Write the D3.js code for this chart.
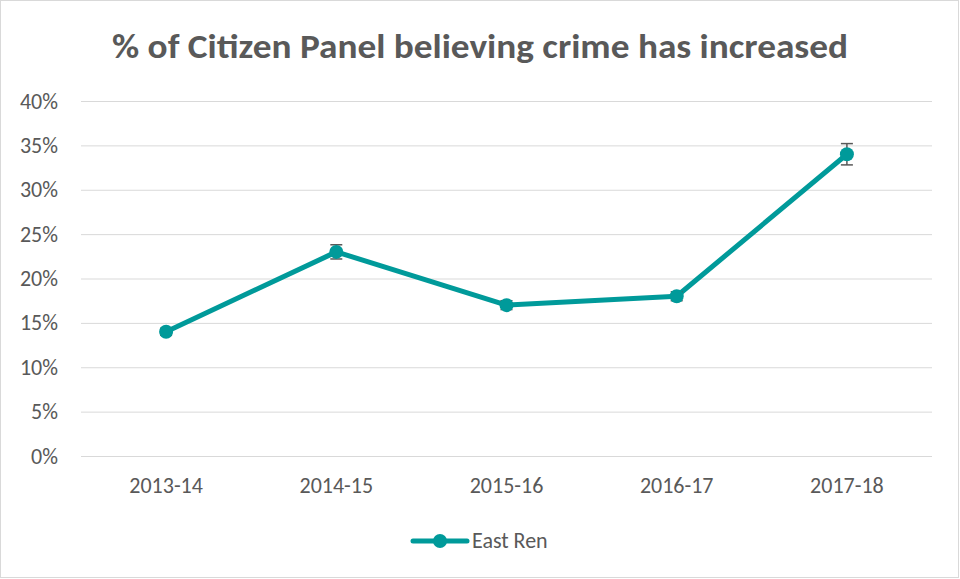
<!DOCTYPE html>
<html>
<head>
<meta charset="utf-8">
<script src="https://cdn.jsdelivr.net/npm/d3@7"></script>
<style>
  body { margin: 0; background: #fff; }
  svg { display: block; font-family: Carlito, Calibri, "Open Sans", sans-serif; }
</style>
</head>
<body>
<div id="chart"></div>
<script>
var years = ["2013-14", "2014-15", "2015-16", "2016-17", "2017-18"];
var values = [14, 23, 17, 18, 34];
var errors = [0.4, 0.8, 0.5, 0.5, 1.2];
var yTicks = [0, 5, 10, 15, 20, 25, 30, 35, 40];
var seriesName = "East Ren";

var width = 960, height = 579;
var margin = {top: 101, right: 28, bottom: 123, left: 81};
var teal = "#009a9a";
var grey = "#595959";
var fontFam = "Carlito, Calibri, 'Open Sans', sans-serif";

var svg = d3.select("#chart").append("svg")
    .attr("width", width)
    .attr("height", height);

svg.append("rect")
    .attr("x", 0.5).attr("y", 0.5)
    .attr("width", width - 2).attr("height", height - 2)
    .style("fill", "#fff")
    .style("stroke", "#d9d9d9");

var x = d3.scaleBand()
    .domain(years)
    .range([margin.left, width - margin.right]);

var y = d3.scaleLinear()
    .domain([0, 40])
    .range([height - margin.bottom, margin.top]);

// title
svg.append("text")
    .attr("x", 480).attr("y", 58)
    .attr("text-anchor", "middle")
    .attr("textLength", 736)
    .attr("lengthAdjust", "spacingAndGlyphs")
    .style("font-size", "35px")
    .style("font-weight", "bold")
    .style("fill", grey)
    .text("% of Citizen Panel believing crime has increased");

// gridlines + y labels
var yAxis = svg.append("g")
    .attr("transform", "translate(" + margin.left + ",0)")
    .call(d3.axisLeft(y).tickValues(yTicks)
        .tickSize(-(width - margin.left - margin.right))
        .tickPadding(23)
        .tickFormat(function(d) { return d + "%"; }));
yAxis.select(".domain").remove();
yAxis.selectAll(".tick line").style("stroke", "#d9d9d9").style("stroke-width", 1);
yAxis.selectAll(".tick text")
    .style("font-size", "22px")
    .style("fill", grey)
    .style("font-family", fontFam);

// x labels
var xAxis = svg.append("g")
    .attr("transform", "translate(0," + (height - margin.bottom) + ")")
    .call(d3.axisBottom(x).tickSize(0).tickPadding(21));
xAxis.select(".domain").remove();
xAxis.selectAll(".tick text")
    .style("font-size", "22px")
    .style("fill", grey)
    .style("font-family", fontFam);

var data = years.map(function(d, i) { return {year: d, value: values[i], err: errors[i]}; });
var cx = function(d) { return x(d.year) + x.bandwidth() / 2; };

var line = d3.line()
    .x(cx)
    .y(function(d) { return y(d.value); });

svg.append("path")
    .datum(data)
    .attr("d", line)
    .style("fill", "none")
    .style("stroke", teal)
    .style("stroke-width", 5)
    .style("stroke-linejoin", "round");

// error bars
var eb = svg.append("g").selectAll("g")
    .data(data).enter().append("g")
    .style("stroke", grey)
    .style("stroke-width", 1.5);
eb.append("line")
    .attr("x1", cx).attr("x2", cx)
    .attr("y1", function(d) { return y(d.value + d.err); })
    .attr("y2", function(d) { return y(d.value - d.err); });
eb.append("line")
    .attr("x1", function(d) { return cx(d) - 6; }).attr("x2", function(d) { return cx(d) + 6; })
    .attr("y1", function(d) { return y(d.value + d.err); })
    .attr("y2", function(d) { return y(d.value + d.err); });
eb.append("line")
    .attr("x1", function(d) { return cx(d) - 6; }).attr("x2", function(d) { return cx(d) + 6; })
    .attr("y1", function(d) { return y(d.value - d.err); })
    .attr("y2", function(d) { return y(d.value - d.err); });

svg.append("g").selectAll("circle")
    .data(data).enter().append("circle")
    .attr("cx", cx)
    .attr("cy", function(d) { return y(d.value); })
    .attr("r", 7)
    .style("fill", teal);

// legend
var lg = svg.append("g").attr("transform", "translate(413,541)");
lg.append("line")
    .attr("x1", 0).attr("x2", 54)
    .style("stroke", teal).style("stroke-width", 5).style("stroke-linecap", "round");
lg.append("circle").attr("cx", 27).attr("r", 7).style("fill", teal);
lg.append("text")
    .attr("x", 59).attr("y", 7)
    .style("font-size", "22px")
    .style("fill", grey)
    .text(seriesName);
</script>
</body>
</html>
